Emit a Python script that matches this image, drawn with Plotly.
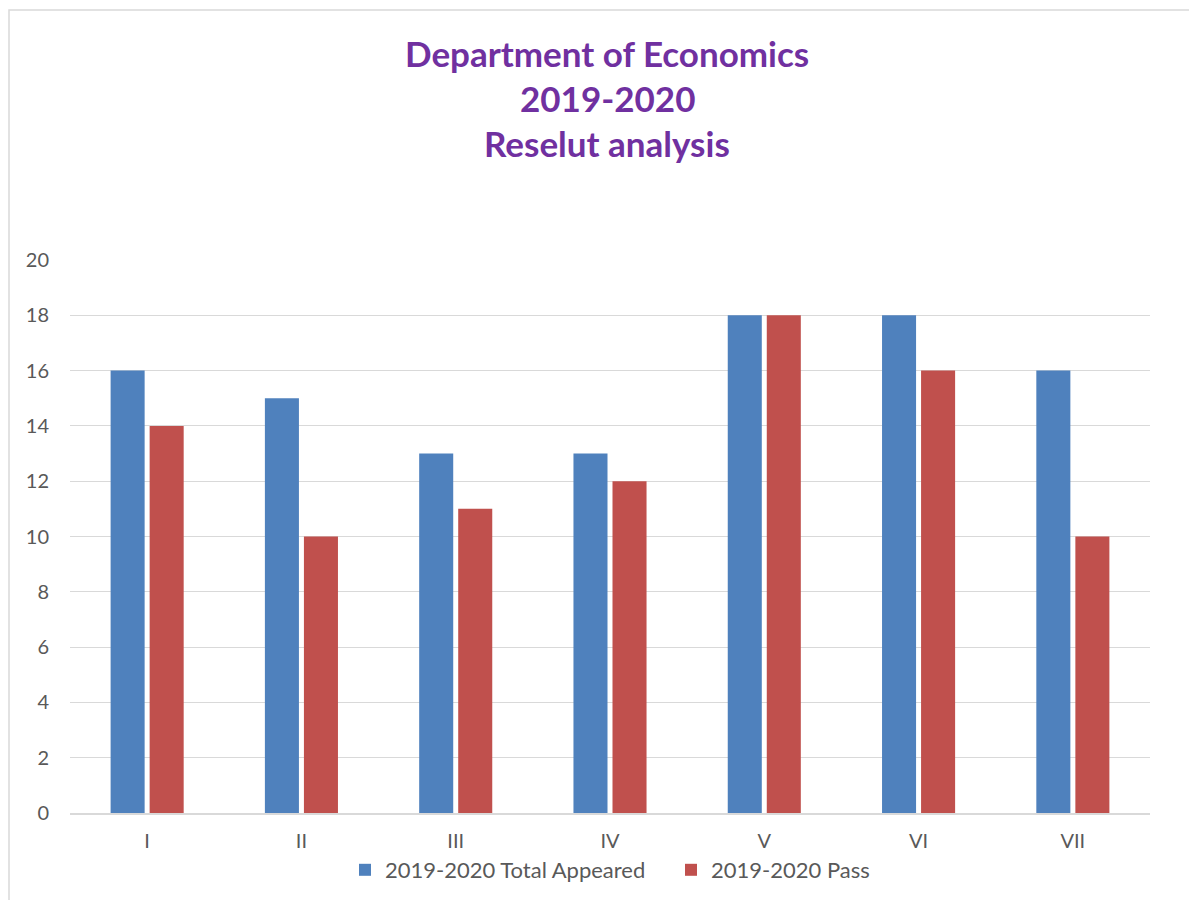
import plotly.graph_objects as go

categories = ["I", "II", "III", "IV", "V", "VI", "VII"]
total_appeared = [16, 15, 13, 13, 18, 18, 16]
passed = [14, 10, 11, 12, 18, 16, 10]
series_names = ["2019-2020 Total Appeared", "2019-2020 Pass"]
title_lines = ["Department of Economics", "2019-2020", "Reselut analysis"]
y_ticks = list(range(0, 21, 2))

W, H = 1197, 900
OFF = 8  # page body margin
L, R, T, B = 70 - OFF, 55, 260 - OFF, 95
plot_h = H - T - B
plot_w = W - L - R

def py(pix):
    return (H - B - (pix - OFF)) / plot_h

def px(pix):
    return ((pix - OFF) - L) / plot_w

fig = go.Figure()
fig.add_trace(go.Bar(x=categories, y=total_appeared, name=series_names[0],
                     marker=dict(color="#4F81BD", line=dict(width=0))))
fig.add_trace(go.Bar(x=categories, y=passed, name=series_names[1],
                     marker=dict(color="#C0504D", line=dict(width=0))))

font_family = "Lato, 'Open Sans', sans-serif"
annotations = []
for line, pix in zip(title_lines, [53, 98, 143]):
    annotations.append(dict(text=f"<b>{line}</b>", x=px(607), y=py(pix),
                            xref="paper", yref="paper", showarrow=False,
                            xanchor="center", yanchor="middle",
                            font=dict(family=font_family, size=35, color="#7030A0")))

fig.update_layout(
    width=W, height=H,
    margin=dict(l=L, r=R, t=T, b=B),
    paper_bgcolor="white", plot_bgcolor="white",
    barmode="group", bargap=0.494, bargroupgap=0.128,
    font=dict(family=font_family, size=20, color="#595959"),
    annotations=annotations,
    legend=dict(orientation="h", x=px(345), xanchor="left", y=py(870), yanchor="middle",
                font=dict(size=22, color="#595959"), itemwidth=30,
                entrywidth=281, entrywidthmode="pixels",
                bgcolor="rgba(0,0,0,0)", traceorder="normal"),
    xaxis=dict(showgrid=False, showline=True, linecolor="#D9D9D9", linewidth=2,
               ticks="", ticklabelstandoff=9, tickfont=dict(size=20)),
    yaxis=dict(range=[0, 20], tickvals=y_ticks, showgrid=True, gridcolor="#D9D9D9",
               gridwidth=1, zeroline=False, showline=False, ticks="",
               ticklabelstandoff=20, tickfont=dict(size=20)),
    shapes=[dict(type="rect", xref="paper", yref="paper",
                 x0=px(9), x1=px(1300), y0=py(10), y1=py(1000),
                 line=dict(color="#D9D9D9", width=1.5), layer="below")],
)

fig.write_html("out.html")
